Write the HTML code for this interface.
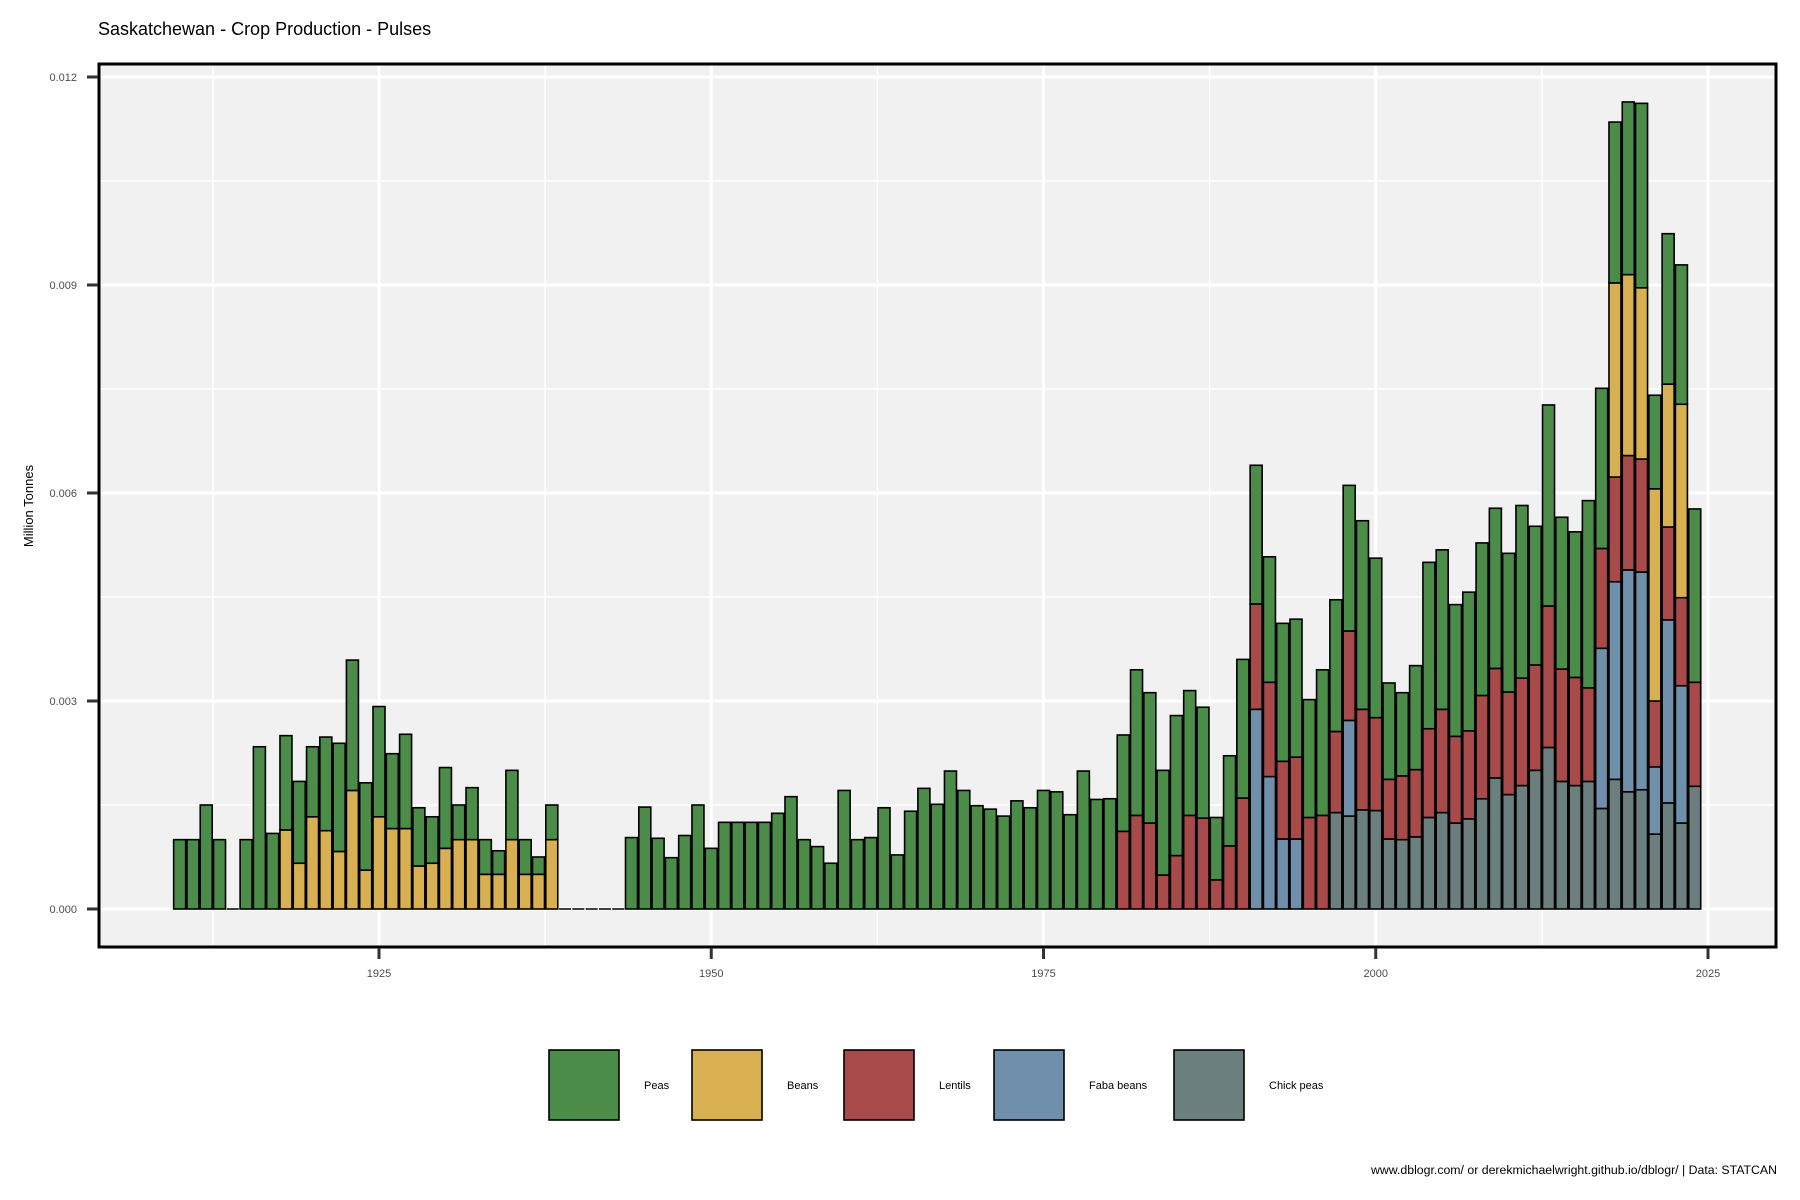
<!DOCTYPE html>
<html><head><meta charset="utf-8"><style>
body{margin:0;background:#fff;}
svg{display:block;font-family:"Liberation Sans",sans-serif;}
</style></head><body>
<svg id="chart" width="1800" height="1200" viewBox="0 0 1800 1200" xmlns="http://www.w3.org/2000/svg">
<text x="98" y="35" font-size="18" fill="#000">Saskatchewan - Crop Production - Pulses</text>
<rect x="99" y="64" width="1677" height="883" fill="#f1f1f1"/>
<g id="grid"></g>
<g id="bars"></g>
<rect x="99" y="64" width="1677" height="883" fill="none" stroke="#000" stroke-width="3"/>
<g id="axes"></g>
<text transform="translate(33,506) rotate(-90)" text-anchor="middle" font-size="13" fill="#000">Million Tonnes</text>
<g id="legend"></g>
<text x="1777" y="1174" text-anchor="end" font-size="12.3" fill="#000">www.dblogr.com/ or derekmichaelwright.github.io/dblogr/ | Data: STATCAN</text>
</svg>
<script>
const years = [];
for (let y = 1910; y <= 2024; y++) years.push(y);
const seriesNames = ["Chick peas","Faba beans","Lentils","Beans","Peas"];
const seriesColors = ["#6b7f7f","#6f8fab","#a84a4a","#d8b052","#4a8c48"];
// values in thousandths of million tonnes, by year 1910..2024
const peas = [1.0,1.0,1.5,1.0,0,1.0,2.34,1.09,1.36,1.18,1.01,1.35,1.56,1.88,1.26,1.59,1.08,1.36,0.84,0.67,1.165,0.5,0.75,0.5,0.34,1.0,0.5,0.25,0.5,
0,0,0,0,0,
1.03,1.47,1.02,0.74,1.06,1.5,0.875,1.25,1.25,1.25,1.25,1.38,1.62,1.0,0.9,0.66,1.71,1.0,1.03,1.46,0.78,1.41,1.74,1.51,1.99,1.71,1.49,1.44,1.34,1.56,1.46,1.71,1.69,1.36,1.99,1.58,1.59,
1.39,2.10,1.88,1.51,2.02,1.80,1.60,0.90,1.30,2.0,2.0,1.81,1.99,1.99,1.70,2.10,1.90,2.10,2.72,2.30,1.39,1.20,1.50,2.40,2.30,1.90,2.00,2.20,2.31,2.00,2.49,2.0,2.90,2.19,2.10,2.70,2.31,2.32,2.49,2.66,1.35,2.17,2.01,2.50];
const beans = [0,0,0,0,0,0,0,0,1.14,0.66,1.33,1.13,0.83,1.71,0.56,1.33,1.16,1.16,0.62,0.66,0.875,1.0,1.0,0.5,0.5,1.0,0.5,0.5,1.0,
0,0,0,0,0,
0,0,0,0,0,0,0,0,0,0,0,0,0,0,0,0,0,0,0,0,0,0,0,0,0,0,0,0,0,0,0,0,0,0,0,0,0,
0,0,0,0,0,0,0,0,0,0,0,0,0,0,0,0,0,0,0,0,0,0,0,0,0,0,0,0,0,0,0,0,0,0,0,0,0,2.80,2.61,2.47,3.06,2.06,2.79,0];
const lentils = [0,0,0,0,0,0,0,0,0,0,0,0,0,0,0,0,0,0,0,0,0,0,0,0,0,0,0,0,0,
0,0,0,0,0,
0,0,0,0,0,0,0,0,0,0,0,0,0,0,0,0,0,0,0,0,0,0,0,0,0,0,0,0,0,0,0,0,0,0,0,0,0,
1.12,1.35,1.24,0.49,0.77,1.35,1.31,0.42,0.91,1.6,1.52,1.36,1.12,1.18,1.32,1.35,1.17,1.29,1.45,1.34,0.86,0.92,0.97,1.28,1.49,1.25,1.27,1.49,1.58,1.48,1.55,1.52,2.04,1.62,1.56,1.35,1.44,1.51,1.65,1.63,0.95,1.34,1.27,1.50];
const faba = [0,0,0,0,0,0,0,0,0,0,0,0,0,0,0,0,0,0,0,0,0,0,0,0,0,0,0,0,0,
0,0,0,0,0,
0,0,0,0,0,0,0,0,0,0,0,0,0,0,0,0,0,0,0,0,0,0,0,0,0,0,0,0,0,0,0,0,0,0,0,0,0,
0,0,0,0,0,0,0,0,0,0,2.88,1.91,1.01,1.01,0,0,0,1.38,0,0,0,0,0,0,0,0,0,0,0,0,0,0,0,0,0,0,2.31,2.85,3.20,3.14,0.97,2.64,1.98,0];
const chick = [0,0,0,0,0,0,0,0,0,0,0,0,0,0,0,0,0,0,0,0,0,0,0,0,0,0,0,0,0,
0,0,0,0,0,
0,0,0,0,0,0,0,0,0,0,0,0,0,0,0,0,0,0,0,0,0,0,0,0,0,0,0,0,0,0,0,0,0,0,0,0,0,
0,0,0,0,0,0,0,0,0,0,0,0,0,0,0,0,1.39,1.34,1.43,1.42,1.01,1.0,1.04,1.32,1.39,1.24,1.30,1.59,1.89,1.65,1.78,2.0,2.33,1.84,1.78,1.84,1.45,1.87,1.69,1.72,1.08,1.53,1.24,1.77];
const yTicks = [0,0.003,0.006,0.009,0.012];
const yTickLabels = ["0.000","0.003","0.006","0.009","0.012"];
const xTicks = [1925,1950,1975,2000,2025];
const xTickLabels = ["1925","1950","1975","2000","2025"];
const legendLabels = ["Peas","Beans","Lentils","Faba beans","Chick peas"];
const legendColors = ["#4a8c48","#d8b052","#a84a4a","#6f8fab","#6b7f7f"];

const NS = "http://www.w3.org/2000/svg";
function xs(yr){ return 379 + (yr - 1925) * 13.29; }
function ys(v){ return 909 - v * 69333.33; }
function mk(tag, attrs, parent){ const e = document.createElementNS(NS, tag); for (const k in attrs) e.setAttribute(k, attrs[k]); parent.appendChild(e); return e; }

const grid = document.getElementById('grid');
for (let v = 0.0015; v < 0.0125; v += 0.003) {
  const l = mk('line', {x1:99, x2:1776, y1:ys(v), y2:ys(v), stroke:'#fff', 'stroke-width':1.5}, grid);
  
  
}
for (let yr = 1912.5; yr < 2030; yr += 25) {
  const l = mk('line', {x1:xs(yr), x2:xs(yr), y1:64, y2:947, stroke:'#fff', 'stroke-width':1.5}, grid);
  
  
}
yTicks.forEach(v => {
  const l = mk('line', {x1:99, x2:1776, y1:ys(v), y2:ys(v), stroke:'#fff', 'stroke-width':3}, grid);
  
  
});
xTicks.forEach(t => {
  const l = mk('line', {x1:xs(t), x2:xs(t), y1:64, y2:947, stroke:'#fff', 'stroke-width':3}, grid);
  
  
});

const bars = document.getElementById('bars');
const series = [chick, faba, lentils, beans, peas];
const bw = 12;
years.forEach((yr, i) => {
  let cum = 0;
  let total = 0;
  series.forEach(s => total += s[i]);
  if (total === 0) {
    const z = mk('line', {x1:xs(yr)-bw/2, x2:xs(yr)+bw/2, y1:ys(0), y2:ys(0), stroke:'#000', 'stroke-width':1.5}, bars);
    
    
    return;
  }
  series.forEach((s, k) => {
    const v = s[i];
    if (!v) return;
    const y1 = ys((cum + v) / 1000), y0 = ys(cum / 1000);
    const r = mk('rect', {x:xs(yr)-bw/2, y:y1, width:bw, height:y0-y1, fill:seriesColors[k], stroke:'#000', 'stroke-width':1.6}, bars);
    
    
    cum += v;
  });
});

const axes = document.getElementById('axes');
yTicks.forEach((v, i) => {
  const t = mk('line', {x1:87, x2:98, y1:ys(v), y2:ys(v), stroke:'#333', 'stroke-width':3}, axes);
  
  
  const lb = mk('text', {x:77, y:ys(v)+4, 'text-anchor':'end', 'font-size':11, fill:'#4d4d4d'}, axes);
  lb.textContent = yTickLabels[i];
  
  
});
xTicks.forEach((v, i) => {
  const t = mk('line', {x1:xs(v), x2:xs(v), y1:948, y2:959, stroke:'#333', 'stroke-width':3}, axes);
  
  
  const lb = mk('text', {x:xs(v), y:977, 'text-anchor':'middle', 'font-size':11, fill:'#4d4d4d'}, axes);
  lb.textContent = xTickLabels[i];
  
  
});

const legend = document.getElementById('legend');
const keyX = [549, 692, 844, 994, 1174];
legendLabels.forEach((name, i) => {
  const r = mk('rect', {x:keyX[i], y:1050, width:70, height:70, fill:legendColors[i], stroke:'#000', 'stroke-width':1.6}, legend);
  
  
  const t = mk('text', {x:keyX[i]+95, y:1089, 'font-size':11, fill:'#000'}, legend);
  t.textContent = name;
  
  
});
</script>
</body></html>
